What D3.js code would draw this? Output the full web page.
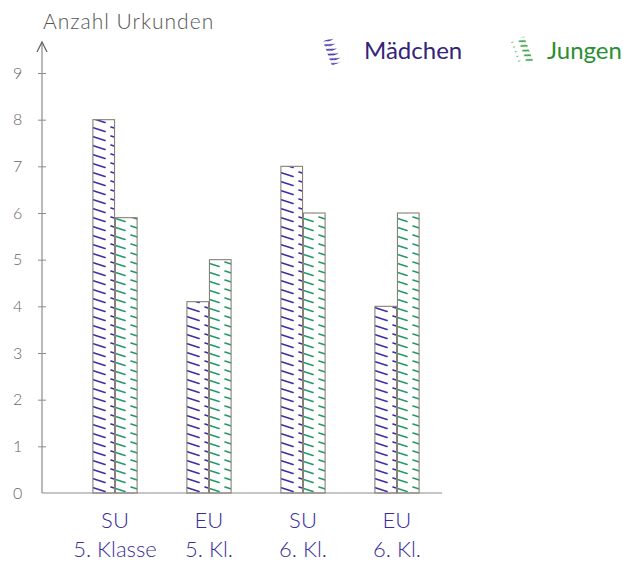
<!DOCTYPE html>
<html><head><meta charset="utf-8">
<script src="https://cdn.jsdelivr.net/npm/d3@7"></script>
<style>html,body{margin:0;padding:0;background:#fff;} svg{display:block;}</style>
</head><body>
<script>
const categories = ["SU|5. Klasse", "EU|5. Kl.", "SU|6. Kl.", "EU|6. Kl."];
const series = ["Mädchen", "Jungen"];
const maedchen = [8, 4.1, 7, 4];
const jungen = [5.9, 5, 6, 6];
const yTicks = [0,1,2,3,4,5,6,7,8,9];

const W = 630, H = 564;
const svg = d3.select("body").append("svg").attr("width", W).attr("height", H);
const defs = svg.append("defs");
const colors = {"Mädchen": "#3d2fa3", "Jungen": "#22996a"};
const textColors = {"Mädchen": "#33237a", "Jungen": "#2a8f33"};

function hatch(id, color, dense) {
  const p = defs.append("pattern").attr("id", id).attr("patternUnits", "userSpaceOnUse")
    .attr("width", 20).attr("height", dense ? 5 : 9);
  p.append("path").attr("d", "M3,1 L17,5.5").attr("stroke", color).attr("stroke-width", 1.7)
    .attr("stroke-linecap", "round").attr("fill", "none");
}
hatch("h-m", colors["Mädchen"], false);
hatch("h-j", colors["Jungen"], false);
hatch("h-m2", colors["Mädchen"], true);
hatch("h-j2", "#2a9a3a", true);

const y = d3.scaleLinear().domain([0, 9]).range([493, 73]);
const x0 = d3.scaleBand().domain(categories).range([68, 444]).paddingInner(0).paddingOuter(0);
const x1 = d3.scaleBand().domain(series).range([x0.bandwidth()/2 - 23, x0.bandwidth()/2 + 23]).padding(0.04);

const axisColor = "#8c8c8c";
const yAxis = d3.axisLeft(y).tickValues(yTicks).tickSize(0).tickFormat(d3.format("d"));
const gy = svg.append("g").attr("transform", "translate(42,0)").call(yAxis);
gy.select(".domain").remove();
gy.selectAll(".tick text").attr("x", -29).attr("fill", "#666").attr("font-family", "Lato, sans-serif")
  .attr("font-weight", 300).attr("font-size", 16).attr("text-anchor", "start");
gy.selectAll(".tick").filter(d => d > 0).append("line").attr("x1", -4).attr("x2", 4).attr("stroke", axisColor);
svg.append("line").attr("x1", 42).attr("x2", 42).attr("y1", 493).attr("y2", 42).attr("stroke", axisColor).attr("stroke-width", 1.2);
svg.append("path").attr("d", "M37,52 L42,42 L47,52").attr("fill", "none").attr("stroke", "#666").attr("stroke-width", 1.3);
svg.append("text").attr("x", 43).attr("y", 29).text("Anzahl Urkunden")
  .attr("fill", "#555").attr("font-family", "Lato, sans-serif").attr("font-weight", 300).attr("font-size", 21)
  .attr("letter-spacing", 1);

svg.append("line").attr("x1", 42).attr("x2", 442).attr("y1", y(0)).attr("y2", y(0)).attr("stroke", axisColor).attr("stroke-width", 1.2);

const data = categories.map((c, i) => ({cat: c, values: [
  {key: "Mädchen", value: maedchen[i]}, {key: "Jungen", value: jungen[i]}]}));
const g = svg.selectAll(".grp").data(data).enter().append("g")
  .attr("transform", d => `translate(${x0(d.cat)},0)`);
g.selectAll("rect").data(d => d.values).enter().append("rect")
  .attr("x", d => x1(d.key)).attr("width", x1.bandwidth())
  .attr("y", d => y(d.value)).attr("height", d => y(0) - y(d.value))
  .attr("fill", d => d.key === "Mädchen" ? "url(#h-m)" : "url(#h-j)")
  .attr("stroke", "#8a8078").attr("stroke-width", 1.1);

const lab = svg.selectAll(".lab").data(categories).enter().append("text")
  .attr("text-anchor", "middle").attr("fill", "#3b2d9c")
  .attr("font-family", "Lato, sans-serif").attr("font-weight", 300).attr("font-size", 22);
lab.append("tspan").attr("x", d => x0(d) + x0.bandwidth()/2).attr("y", 528).text(d => d.split("|")[0]);
lab.append("tspan").attr("x", d => x0(d) + x0.bandwidth()/2).attr("y", 557).text(d => d.split("|")[1]);

const legend = [{key: "Mädchen", sx: 327, tx: 364, pat: "url(#h-m2)"}, {key: "Jungen", sx: 515, tx: 547, pat: "url(#h-j2)"}];
const lg = svg.selectAll(".lg").data(legend).enter().append("g");
lg.append("rect").attr("x", d => d.sx).attr("y", 38).attr("width", 14).attr("height", 26)
  .attr("fill", d => d.pat).attr("transform", d => `rotate(-20 ${d.sx + 7} 51)`);
lg.append("text").attr("x", d => d.tx).attr("y", 59).text(d => d.key)
  .attr("fill", d => textColors[d.key]).attr("font-family", "Lato, sans-serif").attr("font-size", 24).attr("font-weight", 400);
</script>
</body></html>
